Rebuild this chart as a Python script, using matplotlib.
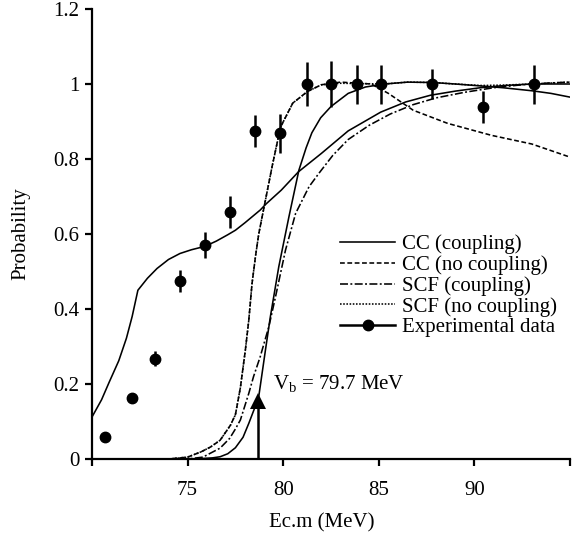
import matplotlib
matplotlib.use('Agg')
import matplotlib.pyplot as plt
from matplotlib.lines import Line2D
from matplotlib.ticker import FuncFormatter

# Experimental data
exp_x = [70.7, 72.1, 73.3, 74.6, 75.9, 77.2, 78.55, 79.85, 81.25, 82.5, 83.85, 85.1, 87.8, 90.45, 93.1]
exp_y = [0.059, 0.163, 0.267, 0.475, 0.571, 0.659, 0.875, 0.869, 1.0, 1.0, 1.0, 1.0, 1.0, 0.939, 1.0]
exp_err = [0.0, 0.0, 0.02, 0.03, 0.035, 0.042, 0.043, 0.052, 0.059, 0.062, 0.052, 0.052, 0.04, 0.043, 0.052]

# CC (coupling), curve with the kink
cc_a_x = [70.0, 70.5, 70.9, 71.4, 71.8, 72.1, 72.4, 72.9, 73.4, 74.0, 74.6, 75.2, 75.9, 76.5, 77.1, 77.5,
          78.0, 78.8, 79.1, 79.9, 80.8, 82.0, 83.4, 85.1, 86.4, 87.7, 89.0, 90.3, 91.6, 93.0, 94.0, 95.0]
cc_a_y = [0.112, 0.158, 0.205, 0.262, 0.322, 0.38, 0.45, 0.482, 0.508, 0.532, 0.548, 0.558, 0.567, 0.581,
          0.598, 0.61, 0.63, 0.664, 0.68, 0.717, 0.766, 0.815, 0.875, 0.925, 0.952, 0.97, 0.981, 0.99,
          0.996, 1.0, 1.0, 1.0]

# second solid curve (steep)
cc_b_x = [70.0, 75.0, 75.7, 76.3, 76.7, 77.1, 77.5, 77.9, 78.2, 78.5, 78.72, 79.07, 79.33, 79.77, 80.3,
          80.82, 81.2, 81.5, 81.96, 82.5, 83.4, 84.3, 85.3, 86.5, 87.8, 89.0, 90.3, 91.5, 93.0, 94.0, 95.0]
cc_b_y = [0.0, 0.0, 0.001, 0.003, 0.006, 0.014, 0.03, 0.058, 0.095, 0.135, 0.166, 0.29, 0.38, 0.513,
          0.646, 0.77, 0.83, 0.87, 0.91, 0.94, 0.975, 0.992, 1.0, 1.005, 1.004, 1.0, 0.995, 0.99, 0.982,
          0.975, 0.965]

# CC (no coupling)
ccn_x = [70.0, 74.0, 75.0, 75.7, 76.2, 76.7, 77.24, 77.5, 77.76, 78.02, 78.2, 78.37, 78.55, 78.72,
         79.07, 79.42, 79.86, 80.5, 81.27, 82.0, 83.0, 84.6, 85.5, 86.8, 88.6, 90.9, 93.0, 95.0]
ccn_y = [0.0, 0.0, 0.005, 0.019, 0.032, 0.05, 0.09, 0.118, 0.19, 0.29, 0.37, 0.468, 0.54, 0.6, 0.69,
         0.78, 0.885, 0.949, 0.98, 0.998, 1.005, 1.0, 0.975, 0.93, 0.895, 0.863, 0.84, 0.805]

# SCF (coupling)
scf_x = [70.0, 75.0, 75.8, 76.7, 77.2, 77.5, 77.76, 78.2, 78.45, 78.8, 79.25, 79.6, 80.12, 80.65, 81.35,
         81.87, 82.6, 83.4, 84.5, 85.6, 86.8, 88.0, 89.5, 91.0, 92.5, 94.0, 95.0]
scf_y = [0.0, 0.0, 0.005, 0.029, 0.055, 0.08, 0.104, 0.175, 0.22, 0.273, 0.353, 0.433, 0.557, 0.655,
         0.726, 0.762, 0.81, 0.852, 0.89, 0.92, 0.945, 0.963, 0.978, 0.99, 0.998, 1.003, 1.005]

# SCF (no coupling), mostly hidden under the other curves
scfn_x = [70.0, 74.0, 75.0, 75.7, 76.2, 76.7, 77.24, 77.5, 77.76, 78.02, 78.2, 78.37, 78.55, 78.72,
          79.07, 79.42, 79.86, 80.5, 81.27, 82.0, 83.0, 85.3, 86.5, 87.8, 89.0, 90.3, 91.5, 93.0, 95.0]
scfn_y = [0.0, 0.0, 0.005, 0.019, 0.032, 0.05, 0.09, 0.118, 0.19, 0.29, 0.37, 0.468, 0.54, 0.6, 0.69,
          0.78, 0.885, 0.949, 0.98, 0.998, 1.002, 1.0, 1.005, 1.004, 1.0, 0.996, 0.997, 1.0, 1.005]

barrier_x = 78.7
barrier_top = 0.165
barrier_label = 'V$_{\\mathrm{b}}$ = 79.7 MeV'

plt.rcParams['font.family'] = ['Liberation Serif', 'DejaVu Serif']
plt.rcParams['mathtext.fontset'] = 'custom'
plt.rcParams['mathtext.rm'] = 'Liberation Serif'

fig = plt.figure(figsize=(5.73, 5.37), dpi=100)
ax = fig.add_axes([92 / 573, 1 - 459 / 537, 478 / 573, 450 / 537])

lw = 1.15
ax.plot(scfn_x, scfn_y, color='black', lw=lw, linestyle=(0, (1, 1)))
l_cc, = ax.plot(cc_a_x, cc_a_y, color='black', lw=lw)
ax.plot(cc_b_x, cc_b_y, color='black', lw=lw)
l_ccn, = ax.plot(ccn_x, ccn_y, color='black', lw=lw, linestyle=(0, (3, 1.6)))
l_scf, = ax.plot(scf_x, scf_y, color='black', lw=lw, linestyle=(0, (5, 1.5, 1.2, 1.5)))

ax.errorbar(exp_x, exp_y, yerr=exp_err, fmt='o', color='black', ms=7.5,
            elinewidth=1.8, capsize=0, zorder=5)

# barrier arrow
ax.plot([barrier_x, barrier_x], [0, barrier_top - 0.02], color='black', lw=1.8)
ax.plot([barrier_x], [barrier_top - 0.01], marker='^', color='black', ms=12, markeredgewidth=0)
ax.text(79.45, 0.2, barrier_label, fontsize=15, va='center', ha='left')

ax.set_xlim(70, 95)
ax.set_ylim(0, 1.2)
ax.set_xticks([70, 75, 80, 85, 90, 95])
ax.set_xticklabels(['', '75', '80', '85', '90', ''])
ax.set_yticks([0, 0.2, 0.4, 0.6, 0.8, 1.0, 1.2])
ax.yaxis.set_major_formatter(FuncFormatter(lambda v, p: f'{v:g}'))

for s in ['top', 'right']:
    ax.spines[s].set_visible(False)
for s in ['left', 'bottom']:
    ax.spines[s].set_linewidth(1.6)
ax.tick_params(axis='both', direction='out', length=5, width=1.6, labelsize=15)
ax.tick_params(axis='x', pad=11)
ax.tick_params(axis='y', pad=4)

ax.set_xlabel('Ec.m (MeV)', fontsize=15)
ax.xaxis.set_label_coords((322 - 92) / 478, -54 / 450)
ax.set_ylabel('Probability', fontsize=15)
ax.yaxis.set_label_coords(-62 / 478, 0.5)

l_scfn = Line2D([], [], color='black', lw=lw, linestyle=(0, (1, 1)))
l_exp = Line2D([], [], color='black', lw=1.8, marker='o', ms=7.5)
fig.legend([l_cc, l_ccn, l_scf, l_scfn, l_exp],
           ['CC (coupling)', 'CC (no coupling)', 'SCF (coupling)', 'SCF (no coupling)', 'Experimental data'],
           loc='center left', bbox_to_anchor=(340 / 573, 1 - 286 / 537), frameon=False,
           fontsize=15, handlelength=2.65, handletextpad=0.35, labelspacing=0.05,
           borderpad=0, borderaxespad=0)

fig.savefig('out.png', dpi=100)
